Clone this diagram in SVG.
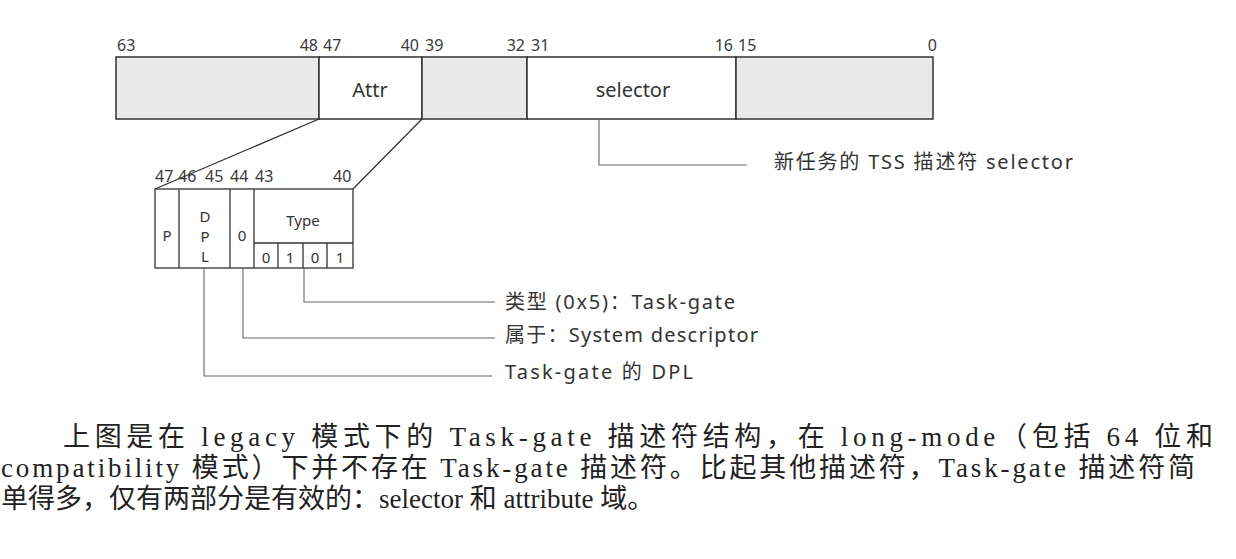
<svg xmlns="http://www.w3.org/2000/svg" width="1236" height="559" viewBox="0 0 1236 559">
  <style>
    .cell { stroke: #333; stroke-width: 1.5; }
    .shade { fill: #e9e9e9; }
    .blank { fill: #ffffff; }
    .grid { fill: none; stroke: #333; stroke-width: 1.3; }
    .bit { font-family: "Noto Sans", "Open Sans", sans-serif; font-size: 16px; fill: #3a3a3a; }
    .field { font-family: "Noto Sans", "Noto Sans CJK SC", sans-serif; font-size: 20px; fill: #333; text-anchor: middle; }
    .small { font-family: "Noto Sans", sans-serif; font-size: 15px; fill: #333; text-anchor: middle; }
    .vert { writing-mode: vertical-rl; text-orientation: upright; letter-spacing: 0px; }
    .note { font-family: "Noto Sans", "Noto Sans CJK SC", sans-serif; font-size: 20px; fill: #333; }
    .lead { fill: none; stroke: #666; stroke-width: 1.1; }
    .fan { fill: none; stroke: #333; stroke-width: 1.3; }
    .para { font-family: "Liberation Serif", "Noto Sans CJK SC", serif; font-size: 27px; fill: #222; }
  </style>

  <rect width="1236" height="559" fill="#ffffff"/>

  <!-- 64-bit Task-gate descriptor -->
  <g id="descriptor">
    <rect class="cell shade" x="116" y="57" width="203" height="62"/>
    <rect class="cell blank" x="319" y="57" width="103" height="62"/>
    <rect class="cell shade" x="422" y="57" width="105" height="62"/>
    <rect class="cell blank" x="527" y="57" width="209" height="62"/>
    <rect class="cell shade" x="736" y="57" width="197" height="62"/>
    <text class="field" x="370" y="97">Attr</text>
    <text class="field" x="633" y="97">selector</text>
  </g>

  <g id="descriptor-bits" class="bit">
    <text x="117" y="51">63</text>
    <text x="318" y="51" text-anchor="end">48</text>
    <text x="323" y="51">47</text>
    <text x="419" y="51" text-anchor="end">40</text>
    <text x="425" y="51">39</text>
    <text x="525" y="51" text-anchor="end">32</text>
    <text x="531" y="51">31</text>
    <text x="733" y="51" text-anchor="end">16</text>
    <text x="738" y="51">15</text>
    <text x="937" y="51" text-anchor="end">0</text>
  </g>

  <!-- expanded attribute byte (bits 47..40) -->
  <g id="attr-detail">
    <rect class="grid" x="155" y="189" width="198" height="79"/>
    <line class="grid" x1="179" y1="189" x2="179" y2="268"/>
    <line class="grid" x1="230" y1="189" x2="230" y2="268"/>
    <line class="grid" x1="254" y1="189" x2="254" y2="268"/>
    <line class="grid" x1="254" y1="243" x2="353" y2="243"/>
    <line class="grid" x1="278" y1="243" x2="278" y2="268"/>
    <line class="grid" x1="303" y1="243" x2="303" y2="268"/>
    <line class="grid" x1="327" y1="243" x2="327" y2="268"/>
    <text class="small" x="167" y="241">P</text>
    <!-- DPL set vertically, one letter per row -->
    <text class="small vert" x="205" y="236">DPL</text>
    <text class="small" x="242" y="241">0</text>
    <text class="small" x="303" y="226" font-size="17">Type</text>
    <text class="small" x="266" y="263">0</text>
    <text class="small" x="290" y="263">1</text>
    <text class="small" x="315" y="263">0</text>
    <text class="small" x="340" y="263">1</text>
  </g>

  <g id="attr-bits" class="bit">
    <text x="155" y="182">47</text>
    <text x="178" y="182">46</text>
    <text x="205" y="182">45</text>
    <text x="230" y="182">44</text>
    <text x="255" y="182">43</text>
    <text x="333" y="182">40</text>
  </g>

  <!-- callout labels -->
  <g id="label-selector">
    <text class="note" x="774" y="169" textLength="299" lengthAdjust="spacing">新任务的 TSS 描述符 selector</text>
  </g>
  <g id="label-type">
    <text class="note" x="505" y="309" textLength="230" lengthAdjust="spacing">类型 (0x5)：Task-gate</text>
  </g>
  <g id="label-system">
    <text class="note" x="505" y="342" textLength="253" lengthAdjust="spacing">属于：System descriptor</text>
  </g>
  <g id="label-dpl">
    <text class="note" x="505" y="379" textLength="188" lengthAdjust="spacing">Task-gate 的 DPL</text>
  </g>

  <!-- connectors -->
  <g id="connectors">
    <line class="fan" x1="319" y1="119" x2="155" y2="189"/>
    <line class="fan" x1="422" y1="119" x2="353" y2="189"/>
    <polyline class="lead" points="599,119 599,165 747,165"/>
    <polyline class="lead" points="304,268 304,302 495,302"/>
    <polyline class="lead" points="243,268 243,338 495,338"/>
    <polyline class="lead" points="204,268 204,376 492,376"/>
  </g>

  <!-- body text below the figure -->
  <g id="paragraph" class="para">
    <text x="63" y="446" textLength="1150" lengthAdjust="spacing">上图是在 legacy 模式下的 Task-gate 描述符结构，在 long-mode（包括 64 位和</text>
    <text x="1" y="477" textLength="1194" lengthAdjust="spacing">compatibility 模式）下并不存在 Task-gate 描述符。比起其他描述符，Task-gate 描述符简</text>
    <text x="1" y="508">单得多，仅有两部分是有效的：selector 和 attribute 域。</text>
  </g>
</svg>
